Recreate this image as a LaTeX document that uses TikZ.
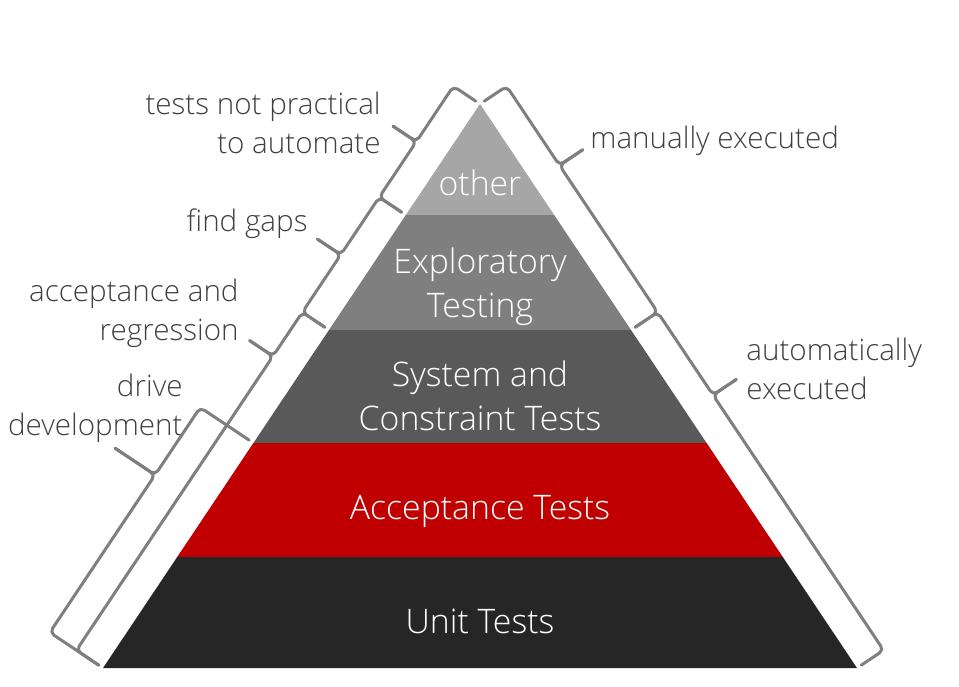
\documentclass[tikz,border=0pt]{standalone}
\usepackage{fontspec}
\IfFontExistsTF{Open Sans Light}{\setmainfont{Open Sans Light}}{\setmainfont{Open Sans}}
\usetikzlibrary{calc}
\definecolor{TpOther}{RGB}{166,166,166}
\definecolor{TpExpl}{RGB}{127,127,127}
\definecolor{TpSys}{RGB}{89,89,89}
\definecolor{TpAcc}{RGB}{192,0,0}
\definecolor{TpUnit}{RGB}{38,38,38}
\definecolor{TpBrace}{RGB}{127,127,127}
\definecolor{TpText}{RGB}{64,64,64}
\tikzset{
  tp/intext/.style={
    text=white,
    align=center,
    inner sep=0pt,
    font=\fontsize{16.9}{22}\selectfont
  },
  tp/label/.style={
    text=TpText,
    inner sep=0pt,
    font=\fontsize{14.8}{19.5}\selectfont
  },
  tp/leftlabel/.style={tp/label, align=right, anchor=east},
  tp/rightlabel/.style={tp/label, align=left, anchor=west},
  tp/brace/.style={draw=TpBrace, line width=1.5pt, rounded corners=2.5pt, line cap=round, line join=round}
}

\begin{document}
\begin{tikzpicture}[x=0.5pt,y=-0.5pt]
  \useasboundingbox (0,0) rectangle (959,686);
  % pyramid edges
  \coordinate (L0) at (480,104);
  \coordinate (R0) at (480,104);
  \foreach \i/\y in {1/215,2/330,3/443,4/557,5/668}
  {
    \coordinate (L\i) at ({480-0.6684*(\y-104)},\y);
    \coordinate (R\i) at ({480+0.6684*(\y-104)},\y);
  }
  \foreach \a/\b/\col in {0/1/TpOther,1/2/TpExpl,2/3/TpSys,3/4/TpAcc,4/5/TpUnit}
    \fill[\col] (L\a) -- (L\b) -- (R\b) -- (R\a) -- cycle;

  \node[tp/intext] (other) at (480,183) {other};
  \node[tp/intext] (expl) at (480,287) {Exploratory\\Testing};
  \node[tp/intext] (sys) at (480,396) {System and\\Constraint Tests};
  \node[tp/intext] (acc) at (480,511) {Acceptance Tests};
  \node[tp/intext] (unit) at (480,621) {Unit Tests};

  % labels
  \node[tp/leftlabel] (notauto) at (381,123) {tests not practical\\to automate};
  \node[tp/leftlabel] (gaps) at (308,224) {find gaps};
  \node[tp/leftlabel] (regr) at (239,313) {acceptance and\\regression};
  \node[tp/leftlabel] (drive) at (183,408) {drive\\development};
  \node[tp/rightlabel] (manual) at (590,141) {manually executed};
  \node[tp/rightlabel] (auto) at (746,369) {automatically\\executed};

  % braces: top, bottom, tip position, body, tip, angle at top / at bottom
  \foreach \a/\b/\asp/\body/\tip/\ang/\gna in {
    L0/L1/0.5/16pt/30pt/-90/90, L1/L2/0.5/16pt/30pt/-90/90,
    L2/L5/0.13/16pt/30pt/-90/90, L3/L5/0.3/32pt/56pt/-90/90,
    R0/R2/0.35/16pt/30pt/90/-90, R2/R5/0.245/16pt/30pt/90/-90}
  {
    \draw[tp/brace] ($(\a)!2.5pt!\ang:(\b)$) -- ($(\a)!\body!\ang:(\b)$)
      -- ($(\a)!\asp!(\b)!\body!\ang:(\b)$) -- ($(\a)!\asp!(\b)!\tip!\ang:(\b)$);
    \draw[tp/brace] ($(\a)!\asp!(\b)!\tip!\ang:(\b)$) -- ($(\a)!\asp!(\b)!\body!\ang:(\b)$)
      -- ($(\b)!\body!\gna:(\a)$) -- ($(\b)!2.5pt!\gna:(\a)$);
  }
\end{tikzpicture}
\end{document}
